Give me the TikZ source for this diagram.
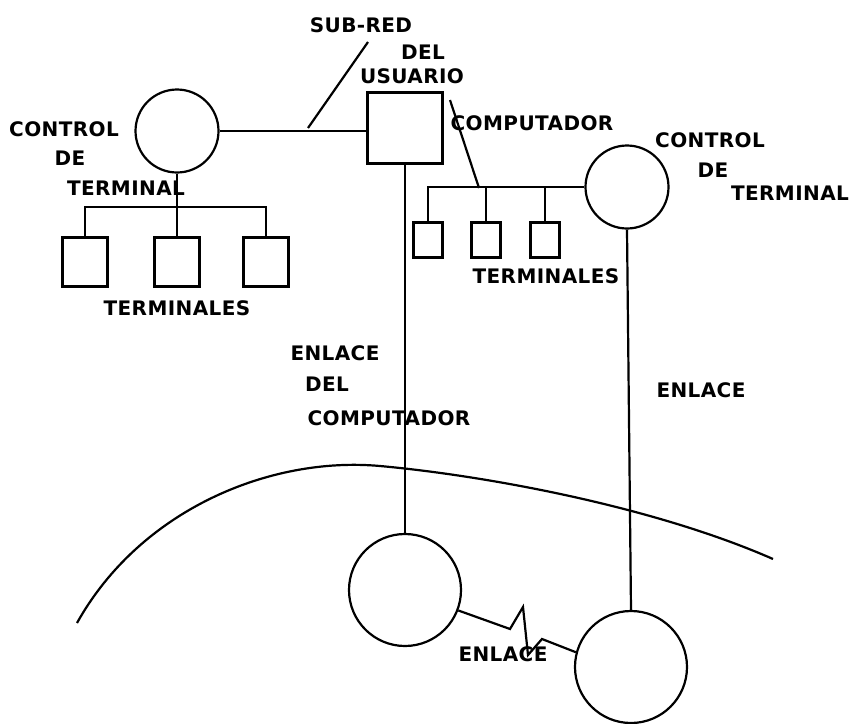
\documentclass[tikz,border=0pt]{standalone}
\usepackage{fontspec}
\newfontfamily\hand[LetterSpace=2]{DejaVu Sans}
\tikzset{lbl/.style={font=\hand\bfseries\fontsize{20}{22}\selectfont,inner sep=0pt},
ctl/.style={circle,draw,minimum size=83pt,inner sep=0pt},
nodo/.style={circle,draw,minimum size=112pt,inner sep=0pt},
termA/.style={draw,minimum width=45pt,minimum height=49pt,inner sep=0pt},
termB/.style={draw,minimum width=29pt,minimum height=35pt,inner sep=0pt}}
\begin{document}
\begin{tikzpicture}[x=1pt,y=-1pt,line width=2.2pt]
\useasboundingbox(0,0)rectangle(851,723);
\node[ctl](ctlA)at(177,131){};
\node[ctl](ctlB)at(627,187){};
\node[draw,minimum width=75pt,minimum height=71pt,inner sep=0pt](usr)at(405,128){};
\node[nodo](nodA)at(405,590){};
\node[nodo](nodB)at(631,667){};
\foreach\x[count=\i]in{85,177,266}{\node[termA](tA\i)at(\x,262){};}
\foreach\x[count=\i]in{428,486,545}{\node[termB](tB\i)at(\x,240){};}
\coordinate(busA)at(177,207);\coordinate(busB)at(479,188);
\coordinate(srTip)at(368,42);\coordinate(srFoot)at(308,128);
\coordinate(cpTip)at(450,100);
\draw(ctlA.east)--(ctlA.east-|usr.west);
\draw(srFoot)--(srTip);
\draw(ctlA.south)--(busA);
\draw(tA1.north)--(tA1.north|-busA)--(tA3.north|-busA)--(tA3.north);
\draw(tA2.north)--(tA2.north|-busA);
\draw(tB1.north)--(tB1.north|-ctlB.west)--(ctlB.west);
\foreach\i in{2,3}{\draw(tB\i.north)--(tB\i.north|-ctlB.west);}
\draw(cpTip)--(busB);
\draw(usr.south)--(nodA.north);
\draw(ctlB.south)--(nodB.north);
\draw(nodA.-21)--(510,629)--(523,607)--(528,655)--(542,639)--(nodB.165);
\draw(77,623)..controls(140,510)and(270,456)..(380,466)..controls(480,475)and(650,505)..(773,559);
\node[lbl](lSub)at(361,25){SUB-RED};
\node[lbl](lDel)at(423,52){DEL};
\node[lbl](lUsu)at(412,76){USUARIO};
\node[lbl](lCom)at(532,123){COMPUTADOR};
\node[lbl](lCA1)at(64,129){CONTROL};
\node[lbl](lCA2)at(70,158){DE};
\node[lbl](lCA3)at(126,188){TERMINAL};
\node[lbl](lTA)at(177,308){TERMINALES};
\node[lbl](lCB1)at(710,140){CONTROL};
\node[lbl](lCB2)at(713,170){DE};
\node[lbl](lCB3)at(790,193){TERMINAL};
\node[lbl](lTB)at(546,276){TERMINALES};
\node[lbl](lEn1)at(335,353){ENLACE};
\node[lbl](lEn2)at(327,384){DEL};
\node[lbl](lEn3)at(389,418){COMPUTADOR};
\node[lbl](lEn4)at(701,390){ENLACE};
\node[lbl](lEn5)at(503,654){ENLACE};
\end{tikzpicture}
\end{document}
